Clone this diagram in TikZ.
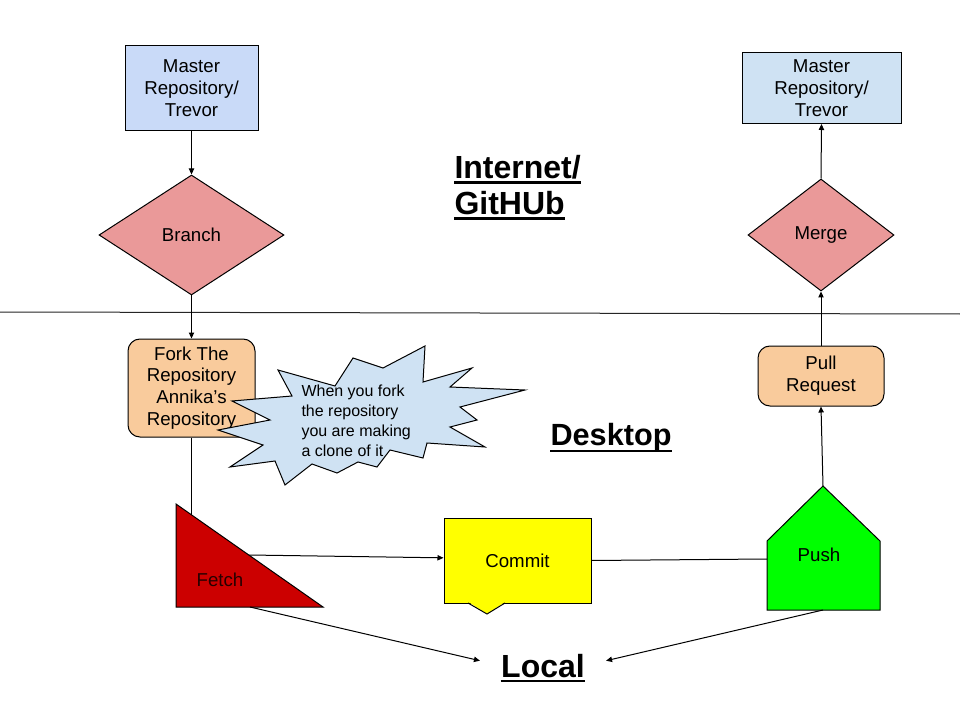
\documentclass[tikz,border=0pt]{standalone}
\usepackage{fontspec}
\setmainfont{Liberation Sans}
\usetikzlibrary{arrows.meta,shapes.geometric}
\definecolor{mblue}{HTML}{C9DAF8}
\definecolor{lblue}{HTML}{CFE2F3}
\definecolor{dpink}{HTML}{EA9999}
\definecolor{peach}{HTML}{F9CB9C}
\definecolor{fetchred}{HTML}{CC0000}
\definecolor{cyellow}{HTML}{FFFF00}
\definecolor{pgreen}{HTML}{00FF00}
\begin{document}
\begin{tikzpicture}[x=0.75pt,y=-0.75pt,line width=0.75pt,
  box/.style={draw,inner sep=0pt,align=center,font=\fontsize{14}{16.4}\selectfont},
  dia/.style={draw,diamond,fill=dpink,inner sep=0pt,font=\fontsize{14}{16.1}\selectfont},
  lbl/.style={inner sep=0pt,font=\fontsize{14}{16.1}\selectfont},
  arr/.style={-{Triangle[length=4.5pt,width=4pt]}},
  head/.style={inner sep=0pt,font=\fontsize{24}{27}\selectfont\bfseries},
  ul/.style={line width=1.6pt}]
\useasboundingbox (0,0) rectangle (960,720);
\fill[white] (0,0) rectangle (960,720);
% separator line
\draw[black!85] (0,312) -- (960,314);
% top boxes
\node[box,fill=mblue,minimum width=99.75pt,minimum height=63.75pt] (m1) at (191.5,88) {Master\\Repository/\\Trevor};
\node[box,fill=lblue,minimum width=119.25pt,minimum height=53.25pt] (m2) at (821.5,88) {Master\\Repository/\\Trevor};
\node[dia,minimum width=138.75pt,minimum height=90pt] (branch) at (191.5,235) {Branch};
\node[dia,minimum width=109.5pt,minimum height=84pt] (merge) at (821,235) {\raisebox{-2pt}{Merge}};
\node[box,rounded corners=9pt,fill=peach,minimum width=95.25pt,minimum height=73.5pt] (fork) at (191.5,388) {Fork The\\Repository\\Annika’s\\Repository};
\node[box,rounded corners=9pt,fill=peach,minimum width=94.5pt,minimum height=45pt] (pull) at (821,376) {Pull\\Request};
% commit
\node[box,fill=cyellow,minimum width=110.25pt,minimum height=63.75pt] (commit) at (517.5,560.5) {Commit};
\fill[cyellow] (468.5,602) -- (487,614) -- (505,602) -- cycle;
\draw (468,603) -- (487,614) -- (505,603);
% fetch triangle
\filldraw[fill=fetchred] (176,504) -- (176,607) -- (323,607) -- cycle;
\node[lbl,text=black!85!red] (fetch) at (220,580) {Fetch};
\coordinate (fetchT) at (191.5,514.5);
\coordinate (fetchH) at (249,555);
\coordinate (fetchB) at (250,607);
% push pentagon
\filldraw[fill=pgreen] (767,610) -- (767,541) -- (823,486) -- (880,541) -- (880,610) -- cycle;
\node[lbl] (push) at (819,555) {Push};
\coordinate (pushT) at (823,486);
\coordinate (pushB) at (823,610);
\coordinate (pushL) at (767,559);
% connectors
\draw[arr] (m1.south) -- (branch.north);
\draw[arr] (branch.south) -- (fork.north);
\draw (fork.south) -- (fetchT);
\draw[arr] (fetchH) -- ([yshift=2pt]commit.west);
\draw (commit.east) -- (pushL);
\draw[arr] (pushT) -- (pull.south);
\draw[arr] (pull.north) -- (merge.south);
\draw[arr] (merge.north) -- (m2.south);
% cloud callout
\filldraw[fill=lblue,line join=miter] (232,401) -- (292,396) -- (278,370) -- (335,386) -- (353,358) -- (383,368) -- (425,346) -- (423,382) -- (472,368) -- (450,387) -- (525,390) -- (460,407) -- (477,420) -- (450,427) -- (485,447) -- (427,443) -- (423,458) -- (390,450) -- (377,467) -- (358,462) -- (337,473) -- (312,464) -- (285,485) -- (275,461) -- (230,467) -- (263,445) -- (218,430) -- (270,420) -- cycle;
\node[inner sep=0pt,anchor=west,align=left,font=\fontsize{12}{15}\selectfont] (note) at (301,421) {When you fork\\the repository\\you are making\\a clone of it};
% headings
\node[head,anchor=base west] (inet) at (454,179) {Internet/};
\node[head,anchor=base west] (gh) at (454,215) {GitHUb};
\node[head,anchor=base west,font=\fontsize{23}{26}\selectfont\bfseries] (desk) at (550,445) {Desktop};
\node[head,anchor=base] (loc) at (543,677) {Local};
\draw[ul] ([yshift=-2.6pt]inet.base west) -- ([yshift=-2.6pt]inet.base east);
\draw[ul] ([yshift=-2.6pt]gh.base west) -- ([yshift=-2.6pt]gh.base east);
\draw[ul] ([yshift=-4.2pt]desk.base west) -- ([yshift=-4.2pt]desk.base east);
\draw[ul] ([yshift=-2.8pt]loc.base west) -- ([yshift=-2.8pt]loc.base east);
\draw[arr,shorten >=16pt] (fetchB) -- (loc.west);
\draw[arr,shorten >=16pt] (pushB) -- (loc.east);
\end{tikzpicture}
\end{document}
